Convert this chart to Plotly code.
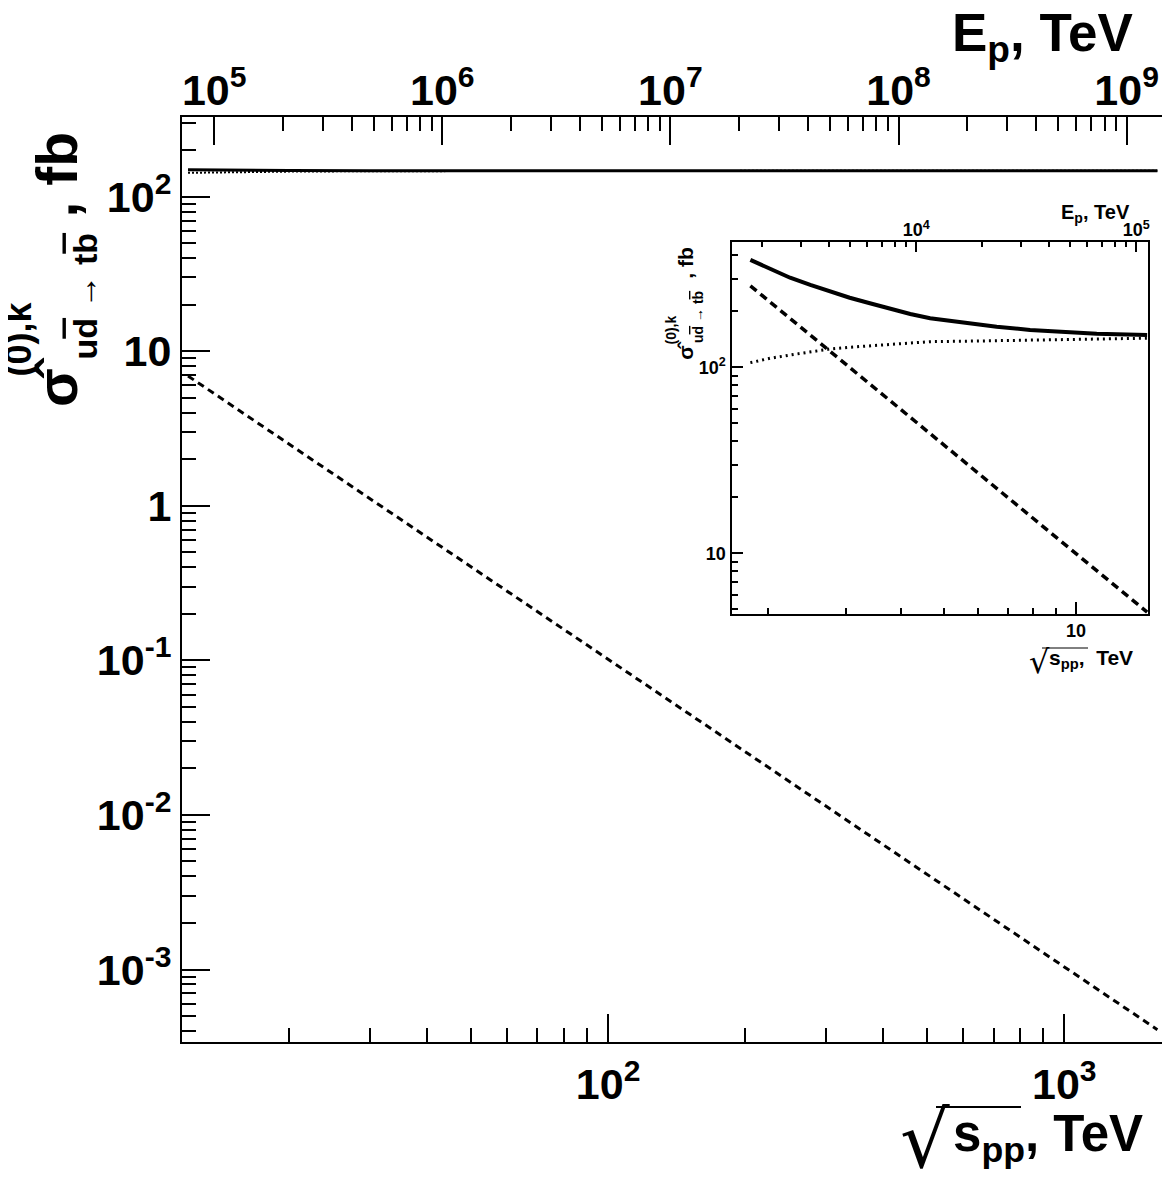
import plotly.graph_objects as go

# ---------------- data ----------------
# main panel: sqrt(s_pp) in TeV
main_sqrt_s = [12, 15, 20, 30, 40, 60, 100, 200, 500, 1000, 1600]
main_solid = [149.3, 148.2, 147.5, 147.0, 146.8, 146.7, 146.6, 146.6, 146.6, 146.6, 146.6]
main_dotted = [142.4, 143.8, 145.0, 145.9, 146.2, 146.4, 146.5, 146.6, 146.6, 146.6, 146.6]
main_dashed = [6.91, 4.43, 2.50, 1.12, 0.63, 0.281, 0.1016, 0.0256, 4.13e-3, 1.04e-3, 4.08e-4]

# inset panel
inset_sqrt_s = [1.82, 2.02, 2.24, 2.49, 2.76, 3.06, 3.40, 3.78, 4.20, 4.66, 5.55, 6.60, 7.86, 9.36, 11.14, 14.5]
inset_solid = [378, 336, 303, 277, 255, 236.5, 221, 205.7, 193.5, 183.4, 173.7, 165.3, 158.7, 154.2, 151.6, 149.2]
inset_dotted = [105.9, 111.8, 116.4, 121.3, 125.4, 128.1, 130.2, 132.3, 134.6, 137.3, 138.0, 139.0, 139.8, 140.6, 142.0, 143.3]
inset_dashed_sqrt_s = [1.82, 2.49, 3.40, 4.66, 6.60, 9.36, 14.5]
inset_dashed = [274, 149, 81, 44, 22.3, 11.3, 4.83]

# tick labels
main_x_ticks = [100, 1000]
main_x_text = ["10<sup>2</sup>", "10<sup>3</sup>"]
main_ep_ticks = [1e5, 1e6, 1e7, 1e8, 1e9]
main_ep_text = ["10<sup>5</sup>", "10<sup>6</sup>", "10<sup>7</sup>", "10<sup>8</sup>", "10<sup>9</sup>"]
main_y_ticks = [1e-3, 1e-2, 1e-1, 1, 10, 100]
main_y_text = ["10<sup>-3</sup>", "10<sup>-2</sup>", "10<sup>-1</sup>", "1", "10", "10<sup>2</sup>"]
inset_x_ticks = [10]
inset_x_text = ["10"]
inset_ep_ticks = [1e4, 1e5]
inset_ep_text = ["10<sup>4</sup>", "10<sup>5</sup>"]
inset_y_ticks = [10, 100]
inset_y_text = ["10", "10<sup>2</sup>"]

M_P = 0.000938272  # proton mass in TeV; E_p = s / (2 m_p)
LOG_C = 2.72670    # -log10(2 m_p)

main_ep = [s * s / (2 * M_P) for s in main_sqrt_s]
inset_ep = [s * s / (2 * M_P) for s in inset_sqrt_s]


def minors(decades, mults=range(2, 10)):
    return [m * 10 ** d for d in decades for m in mults]


main_x_minor = minors([1, 2])
main_ep_minor = minors([5, 6, 7, 8])
main_y_minor = [v for v in minors([-4, -3, -2, -1, 0, 1, 2]) if 3.4e-4 < v < 320]
inset_x_minor = minors([0])
inset_ep_minor = minors([3, 4])
inset_y_minor = [v for v in minors([0, 1, 2]) if 4.7 < v < 470]

# ---------------- layout geometry (page pixels; body has an 8px margin) ----------------
OFF = 8
W, H = 1170 - OFF, 1182 - OFF
L, R, T, B = 182, 1166, 117, 1042   # plot frame in page pixels


def px(x):
    return (x - L) / (R - L)


def py(y):
    return (B - y) / (B - T)


FONT = "Liberation Sans, Arial, Helvetica, sans-serif"
main_x_rng = [1.066, 3.223]
main_y_rng = [-3.469, 2.5146]
inset_x_rng = [0.219, 1.164]
inset_y_rng = [0.672, 2.675]

fig = go.Figure()

# main traces
fig.add_trace(go.Scatter(x=main_sqrt_s, y=main_dotted, mode="lines",
                         line=dict(color="black", width=2, dash="2px,2px"),
                         xaxis="x", yaxis="y", showlegend=False, hoverinfo="skip"))
fig.add_trace(go.Scatter(x=main_sqrt_s, y=main_solid, mode="lines",
                         line=dict(color="black", width=3),
                         xaxis="x", yaxis="y", showlegend=False, hoverinfo="skip"))
fig.add_trace(go.Scatter(x=main_sqrt_s, y=main_dashed, mode="lines",
                         line=dict(color="black", width=3, dash="7px,5px"),
                         xaxis="x", yaxis="y", showlegend=False, hoverinfo="skip"))
# same curve against the E_p scale (transparent) so the top axis is built
fig.add_trace(go.Scatter(x=main_ep, y=main_solid, mode="lines", opacity=0,
                         line=dict(color="black", width=1),
                         xaxis="x2", yaxis="y", showlegend=False, hoverinfo="skip"))

# inset traces
fig.add_trace(go.Scatter(x=inset_sqrt_s, y=inset_solid, mode="lines",
                         line=dict(color="black", width=4),
                         xaxis="x3", yaxis="y3", showlegend=False, hoverinfo="skip"))
fig.add_trace(go.Scatter(x=inset_sqrt_s, y=inset_dotted, mode="lines",
                         line=dict(color="black", width=3, dash="2px,4px"),
                         xaxis="x3", yaxis="y3", showlegend=False, hoverinfo="skip"))
fig.add_trace(go.Scatter(x=inset_dashed_sqrt_s, y=inset_dashed, mode="lines",
                         line=dict(color="black", width=3.5, dash="8px,5px"),
                         xaxis="x3", yaxis="y3", showlegend=False, hoverinfo="skip"))
fig.add_trace(go.Scatter(x=inset_ep, y=inset_solid, mode="lines", opacity=0,
                         line=dict(color="black", width=1),
                         xaxis="x4", yaxis="y3", showlegend=False, hoverinfo="skip"))


def axis(rng, tv, tt, minor_tv, size, tlen, mlen, standoff, **kw):
    d = dict(type="log", range=rng, tickmode="array", tickvals=tv, ticktext=tt,
             ticks="inside", ticklen=tlen, tickwidth=1.5, tickcolor="black",
             tickfont=dict(family=FONT, size=size, color="black", weight="bold"),
             minor=dict(tickmode="array", tickvals=minor_tv, ticks="inside",
                        ticklen=mlen, tickwidth=1.5, tickcolor="black", showgrid=False),
             showgrid=False, zeroline=False, ticklabelstandoff=standoff,
             automargin=False)
    d.update(kw)
    return d


fig.update_layout(
    width=W, height=H,
    margin=dict(l=L - OFF, r=W - (R - OFF), t=T - OFF, b=H - (B - OFF), pad=0),
    paper_bgcolor="white", plot_bgcolor="white",
    xaxis=axis(main_x_rng, main_x_ticks, main_x_text, main_x_minor, 43, 28, 14, 3,
               domain=[0, 1], anchor="y", showline=True, linecolor="black",
               linewidth=2, mirror=True),
    xaxis2=axis([2 * main_x_rng[0] + LOG_C, 2 * main_x_rng[1] + LOG_C],
                main_ep_ticks, main_ep_text, main_ep_minor, 43, 28, 14, 2,
                overlaying="x", side="top", anchor="y", showline=False),
    yaxis=axis(main_y_rng, main_y_ticks, main_y_text, main_y_minor, 43, 28, 14, 0,
               domain=[0, 1], anchor="x", showline=True, linecolor="black",
               linewidth=2, mirror=True),
    xaxis3=axis(inset_x_rng, inset_x_ticks, inset_x_text, inset_x_minor, 18, 12, 6, -1,
                domain=[px(732.3), px(1148.3)], anchor="y3", showline=True,
                linecolor="black", linewidth=2, mirror=True),
    xaxis4=axis([2 * inset_x_rng[0] + LOG_C, 2 * inset_x_rng[1] + LOG_C],
                inset_ep_ticks, inset_ep_text, inset_ep_minor, 18, 10, 5, 1,
                overlaying="x3", side="top", anchor="y3", showline=False),
    yaxis3=axis(inset_y_rng, inset_y_ticks, inset_y_text, inset_y_minor, 18, 11, 5.5, 1,
                domain=[py(614.3), py(241.7)], anchor="x3", showline=True,
                linecolor="black", linewidth=2, mirror=True),
)


def ann(text, x, y, size, xanchor="center", yanchor="middle", angle=0,
        family=FONT, weight="bold"):
    fig.add_annotation(text=text, x=px(x), y=py(y), xref="paper", yref="paper",
                       xanchor=xanchor, yanchor=yanchor, textangle=angle,
                       showarrow=False, borderpad=0,
                       font=dict(family=family, size=size, color="black", weight=weight))


def vinculum(x0, x1, y, w):
    fig.add_shape(type="line", xref="paper", yref="paper",
                  x0=px(x0), x1=px(x1), y0=py(y), y1=py(y),
                  line=dict(color="black", width=w))


OL = "<span style='text-decoration:overline'>"

# main axis titles
ann("E<sub>p</sub>, TeV", 1134, 36, 53, xanchor="right")
ann("s<sub>pp</sub>, TeV", 1144, 1137, 51, xanchor="right")
ann("\u221a", 925, 1140, 78, family="DejaVu Sans", weight="normal")
vinculum(936, 1021, 1107, 2)
ann("\u03c3\u0302", 57, 408, 57, yanchor="bottom", angle=-90)
ann("(0),k", 18, 378, 36, yanchor="bottom", angle=-90)
ann("u" + OL + "d</span> \u2192 t" + OL + "b</span>", 84, 361, 34, yanchor="bottom", angle=-90)
ann(", fb", 57, 131, 57, yanchor="top", angle=-90)

# inset axis titles
ann("E<sub>p</sub>, TeV", 1131, 213, 20, xanchor="right")
ann("s<sub>pp</sub>,\u00a0\u00a0TeV", 1048, 659, 21, xanchor="left")
ann("\u221a", 1039, 662, 32, family="DejaVu Sans", weight="normal")
vinculum(1042, 1088, 648, 1)
ann("\u03c3\u0302", 684.7, 361, 21, yanchor="bottom", angle=-90)
ann("(0),k", 670, 346, 14, yanchor="bottom", angle=-90)
ann("u" + OL + "d</span> \u2192 t" + OL + "b</span>", 698, 344, 14, yanchor="bottom", angle=-90)
ann(", fb", 684.7, 246, 21, yanchor="top", angle=-90)

fig.write_html("out.html")
